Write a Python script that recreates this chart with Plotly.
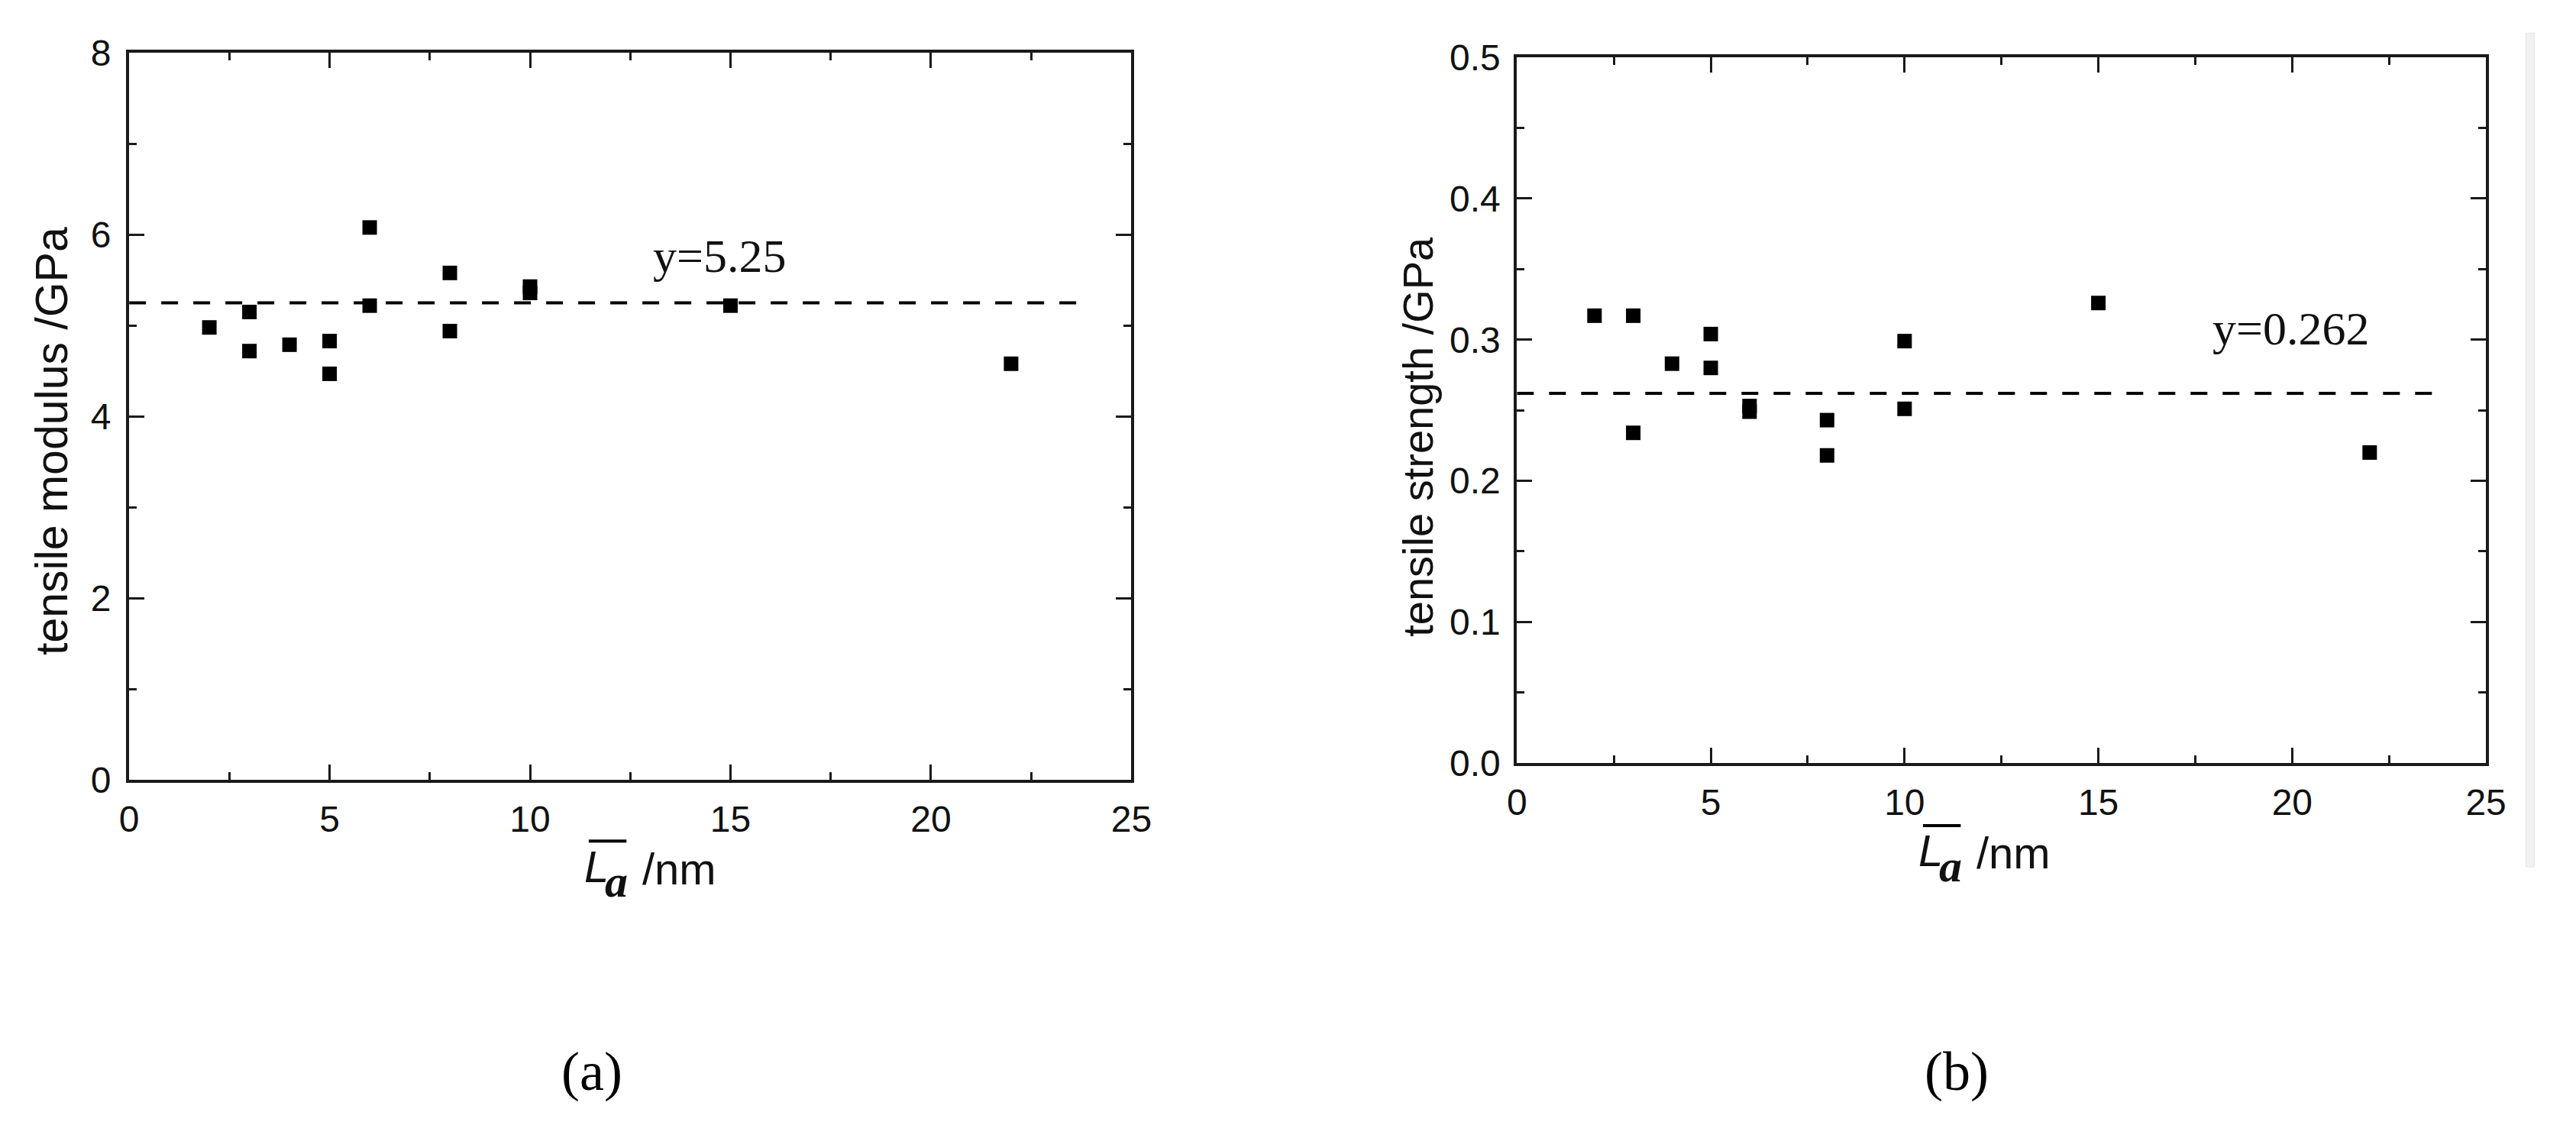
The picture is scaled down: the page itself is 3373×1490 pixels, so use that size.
import plotly.graph_objects as go

# panel (a): tensile modulus vs La
mod_x = [2, 3, 3, 4, 5, 5, 6, 6, 8, 8, 10, 10, 15, 22]
mod_y = [4.98, 5.15, 4.72, 4.79, 4.83, 4.47, 6.08, 5.22, 5.58, 4.94, 5.43, 5.36, 5.22, 4.58]

# panel (b): tensile strength vs La
str_x = [2, 3, 3, 4, 5, 5, 6, 6, 8, 8, 10, 10, 15, 22]
str_y = [0.317, 0.317, 0.234, 0.283, 0.304, 0.280, 0.253, 0.249, 0.243, 0.218, 0.299, 0.251, 0.326, 0.220]

# mean lines
fit_x = [0, 23.7]
mod_mean = 5.25
str_mean = 0.262

W, H = 3373, 1490
INK = "#111111"
SANS = "Liberation Sans, Arial, sans-serif"
SERIF = "Liberation Serif, Times New Roman, serif"


def px(x):
    return x / W


def py(y):
    return 1 - y / H


fig = go.Figure()

fig.add_trace(go.Scatter(x=mod_x, y=mod_y, mode="markers", xaxis="x", yaxis="y",
                         marker=dict(symbol="square", size=19, color="black")))
fig.add_trace(go.Scatter(x=fit_x, y=[mod_mean] * 2, mode="lines", xaxis="x", yaxis="y",
                         line=dict(color="black", width=4, dash="22px,20px")))
fig.add_trace(go.Scatter(x=str_x, y=str_y, mode="markers", xaxis="x2", yaxis="y2",
                         marker=dict(symbol="square", size=19, color="black")))
fig.add_trace(go.Scatter(x=fit_x, y=[str_mean] * 2, mode="lines", xaxis="x2", yaxis="y2",
                         line=dict(color="black", width=4, dash="22px,20px")))


def axis_style(**kw):
    base = dict(showline=True, linewidth=4, linecolor="#1a1a1a", mirror="ticks",
                ticks="inside", ticklen=20, tickwidth=3, tickcolor="#1a1a1a",
                showgrid=False, zeroline=False, fixedrange=True,
                tickfont=dict(family=SANS, size=48, color=INK))
    base.update(kw)
    return base


minor_x = dict(dtick=2.5, ticks="inside", ticklen=10, tickwidth=3, tickcolor="#1a1a1a")

fig.update_layout(
    width=W, height=H, margin=dict(l=0, r=0, t=0, b=0),
    paper_bgcolor="white", plot_bgcolor="white", showlegend=False,
    xaxis=axis_style(domain=[px(158), px(1486)], range=[0, 25], dtick=5, anchor="y",
                     ticklabelstandoff=6, minor=minor_x),
    yaxis=axis_style(domain=[py(1032), py(45)], range=[0, 8], dtick=2, anchor="x",
                     ticklabelstandoff=10,
                     minor=dict(dtick=1, ticks="inside", ticklen=10, tickwidth=3, tickcolor="#1a1a1a")),
    xaxis2=axis_style(domain=[px(1997), px(3281)], range=[0, 25], dtick=5, anchor="y2",
                      ticklabelstandoff=6, minor=minor_x),
    yaxis2=axis_style(domain=[py(1009), py(51)], range=[0, 0.5], dtick=0.1, tickformat=".1f",
                      anchor="x2", ticklabelstandoff=8,
                      minor=dict(dtick=0.05, ticks="inside", ticklen=10, tickwidth=3, tickcolor="#1a1a1a")),
)


def label(x, y, text, font, xref="paper", yref="paper", **kw):
    d = dict(x=x, y=y, xref=xref, yref=yref, text=text, showarrow=False,
             xanchor="center", yanchor="middle", font=font)
    d.update(kw)
    return d


ann = []
# mean labels
ann.append(label(14.73, 5.77, "y=5.25", dict(family=SERIF, size=62, color=INK), xref="x", yref="y"))
ann.append(label(19.96, 0.308, "y=0.262", dict(family=SERIF, size=62, color=INK), xref="x2", yref="y2"))

# y axis titles
ann.append(label(px(55), py(572), "tensile modulus /GPa", dict(family=SANS, size=59, color=INK),
                 textangle=-90))
ann.append(label(px(1866), py(566), "tensile strength /GPa", dict(family=SANS, size=56, color=INK),
                 textangle=-90))

# x axis titles (L with overline, subscript a, /nm)
shapes = []
for dx, dy in [(0, 8), (1768, -13)]:
    ann.append(label(px(777 + dx), py(1141 + dy), "<i>L</i>", dict(family=SANS, size=58, color=INK)))
    ann.append(label(px(804 + dx), py(1162 + dy), "<b><i>a</i></b>", dict(family=SERIF, size=60, color=INK)))
    ann.append(label(px(887 + dx), py(1144 + dy), "/nm", dict(family=SANS, size=58, color=INK)))
    shapes.append(dict(type="line", xref="paper", yref="paper",
                       x0=px(767 + dx), x1=px(817 + dx), y0=py(1107 + dy), y1=py(1107 + dy),
                       line=dict(color="black", width=4)))

# panel labels
ann.append(label(px(771), py(1428), "(a)", dict(family=SERIF, size=72, color="black")))
ann.append(label(px(2580), py(1428), "(b)", dict(family=SERIF, size=72, color="black")))

# faint strip at the right edge seen in the source image
shapes.append(dict(type="rect", xref="paper", yref="paper", layer="below",
                   x0=px(3334), x1=px(3345), y0=py(1150), y1=py(18),
                   fillcolor="#f1f1f1", line=dict(color="#e4e4e4", width=1)))

fig.update_layout(annotations=ann, shapes=shapes)

fig.write_html("out.html", config=dict(displayModeBar=False),
               post_script="document.body.style.margin='0';document.body.style.overflow='hidden';")
